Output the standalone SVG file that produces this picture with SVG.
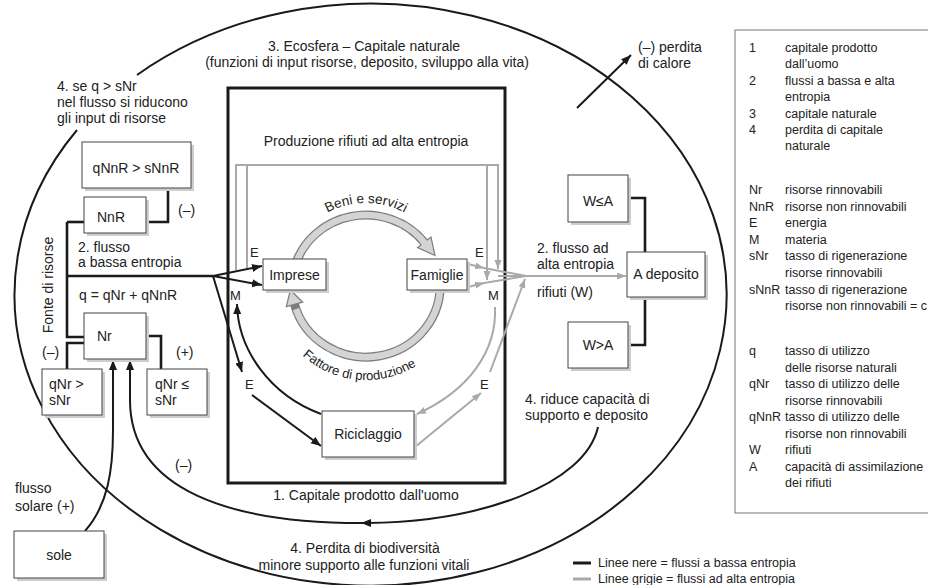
<svg xmlns="http://www.w3.org/2000/svg" width="928" height="585" viewBox="0 0 928 585">
<style>
text{font-family:"Liberation Sans",Arial,sans-serif;fill:#222}
.t{font-size:14px}
.s{font-size:13px}
.lg{font-size:12.5px}
.m{text-anchor:middle}
.box{fill:#fff;stroke:#444;stroke-width:1}
.sh{fill:#cdcdcd}
.k{fill:none;stroke:#1a1a1a;stroke-width:2}
.kk{fill:none;stroke:#1a1a1a;stroke-width:2.6}
.g{fill:none;stroke:#a9a9a9;stroke-width:2}
</style>
<defs>
<marker id="ab" markerUnits="userSpaceOnUse" markerWidth="11" markerHeight="9" refX="10" refY="4" orient="auto"><path d="M0,0 L10,4 L0,8 z" fill="#1a1a1a"/></marker>
<marker id="ag" markerUnits="userSpaceOnUse" markerWidth="10" markerHeight="8" refX="9" refY="3.5" orient="auto"><path d="M0,0 L9,3.5 L0,7 z" fill="#a9a9a9"/></marker>
<path id="pb" d="M283,286 A83 83 0 0 1 449,286"/>
<path id="pf" d="M273.4,302.3 A94 94 0 0 0 458.6,302.3"/>
</defs>

<!-- Ecosphere ellipse -->
<path class="k" d="M137,75 A356 291 0 1 1 77,130" stroke-width="1.8"/>

<!-- Inner rectangle -->
<rect x="228" y="88" width="277" height="395" fill="none" stroke="#1a1a1a" stroke-width="3"/>

<!-- ring -->
<g id="ring">
<path d="M294.5,267.6 A74 71 0 0 1 424.3,242.3" fill="none" stroke="#7d7d7d" stroke-width="9"/>
<polygon points="431,237.1 435,255.5 417.6,247.5" fill="#d4d4d4" stroke="#7d7d7d" stroke-width="1.2"/>
<path d="M294.5,267.6 A74 71 0 0 1 427.3,246.3" fill="none" stroke="#d4d4d4" stroke-width="6.5"/>
<path d="M439.7,279.8 A74 71 0 0 1 294.5,304.4" fill="none" stroke="#7d7d7d" stroke-width="9"/>
<polygon points="286.3,306.6 290.4,290 302.7,302.2" fill="#d4d4d4" stroke="#7d7d7d" stroke-width="1.2"/>
<path d="M439.7,279.8 A74 71 0 0 1 296,309.1" fill="none" stroke="#d4d4d4" stroke-width="6.5"/>
<text style="font-size:13.5px"><textPath href="#pb" startOffset="50%" text-anchor="middle">Beni e servizi</textPath></text>
<text style="font-size:13px"><textPath href="#pf" startOffset="123" text-anchor="middle">Fattore di produzione</textPath></text>
</g>

<!-- connectors -->
<g id="connectors">
<path class="kk" d="M67,222 H84"/>
<path class="kk" d="M146,222 H168 V188"/>
<path class="kk" d="M67,222 V337 H84"/>
<path class="kk" d="M84,343 H67 V369"/>
<path class="kk" d="M146,336 H161 V369"/>
<path class="kk" d="M67,276 H213"/>
<path class="k" d="M213,276 L262,266" marker-end="url(#ab)"/>
<path class="k" d="M213,276 L262,285" marker-end="url(#ab)"/>
<path class="k" d="M213,276 L242,372" marker-end="url(#ab)"/>
<path class="k" d="M252,395 L321,446" marker-end="url(#ab)"/>
<path class="k" d="M321,414 C270,395 238,350 237,304" marker-end="url(#ab)"/>
<path class="k" d="M85,531 C108,505 113,470 113,430 L113,360" marker-end="url(#ab)"/>
<path class="k" d="M598,427 C585,485 480,522 367,523 C230,524 130,490 130,400 L130,360" marker-end="url(#ab)"/>
<polygon points="361,523 371,519 371,527" fill="#1a1a1a"/>
<path class="k" d="M577,108 L631,55" marker-end="url(#ab)"/>
<path class="kk" d="M628,198 H645 V252"/>
<path class="kk" d="M645,297 V345 H628"/>
<path class="g" d="M236,270 V165 H498 V269" marker-end="url(#ag)"/>
<path class="g" d="M247,268 V165"/>
<path class="g" d="M487,165 V280" marker-end="url(#ag)"/>
<path class="g" d="M468,264 L484,268" marker-end="url(#ag)"/>
<path class="g" d="M484,268 L526,276"/>
<path class="g" d="M468,287 L484,283" marker-end="url(#ag)"/>
<path class="g" d="M484,283 L526,276"/>
<path class="g" d="M498,276 H626" marker-end="url(#ag)"/>
<path class="g" d="M495,307 C497,350 470,390 417,414" marker-end="url(#ag)"/>
<path class="g" d="M415,447 L481,393" marker-end="url(#ag)"/>
<path class="g" d="M490,372 L525,279" marker-end="url(#ag)"/>
</g>

<!-- nodes -->
<g id="qNnR-box"><rect class="sh" x="85" y="145" width="109" height="46"/><rect class="box" x="82" y="142" width="109" height="46"/><text class="t m" x="136" y="173">qNnR &gt; sNnR</text></g>
<g id="NnR-box"><rect class="sh" x="87" y="200" width="62" height="36"/><rect class="box" x="84" y="197" width="62" height="36"/><text class="t" x="97" y="222">NnR</text></g>
<g id="Nr-box"><rect class="sh" x="87" y="316" width="62" height="46"/><rect class="box" x="84" y="313" width="62" height="46"/><text class="t" x="97" y="341">Nr</text></g>
<g id="qNr-gt-box"><rect class="sh" x="45" y="372" width="60" height="46"/><rect class="box" x="42" y="369" width="60" height="46"/><text class="t" x="49" y="389">qNr &gt;</text><text class="t" x="49" y="405">sNr</text></g>
<g id="qNr-le-box"><rect class="sh" x="150" y="372" width="60" height="46"/><rect class="box" x="147" y="369" width="60" height="46"/><text class="t" x="155" y="389">qNr  ≤</text><text class="t" x="155" y="405">sNr</text></g>
<g id="imprese"><rect class="sh" x="266" y="262" width="63" height="31"/><rect class="box" x="263" y="259" width="63" height="31"/><text class="t m" x="294.5" y="280">Imprese</text></g>
<g id="famiglie"><rect class="sh" x="410" y="262" width="60" height="31"/><rect class="box" x="407" y="259" width="60" height="31"/><text class="t m" x="437" y="280">Famiglie</text></g>
<g id="riciclaggio"><rect class="sh" x="325" y="414" width="92" height="46"/><rect class="box" x="322" y="411" width="92" height="46"/><text class="t m" x="368" y="439">Riciclaggio</text></g>
<g id="WleA"><rect class="sh" x="571" y="178" width="60" height="47"/><rect class="box" x="568" y="175" width="60" height="47"/><text class="t m" x="598" y="206">W≤A</text></g>
<g id="Adeposito"><rect class="sh" x="630" y="255" width="78" height="45"/><rect class="box" x="627" y="252" width="78" height="45"/><text class="t m" x="666" y="279">A deposito</text></g>
<g id="WgtA"><rect class="sh" x="571" y="325" width="60" height="46"/><rect class="box" x="568" y="322" width="60" height="46"/><text class="t m" x="598" y="350">W&gt;A</text></g>
<g id="sole"><rect class="sh" x="17" y="534" width="90" height="47"/><rect class="box" x="14" y="531" width="90" height="47"/><text class="t m" x="59" y="560">sole</text></g>

<!-- labels -->
<g id="labels">
<text class="t m" x="364" y="51">3. Ecosfera – Capitale naturale</text>
<text class="t m" x="367" y="67">(funzioni di input risorse, deposito, sviluppo alla vita)</text>
<text class="t m" x="366" y="146">Produzione rifiuti ad alta entropia</text>
<text class="t m" x="366" y="500">1. Capitale prodotto dall'uomo</text>
<text class="t m" x="365" y="553">4. Perdita di biodiversità</text>
<text class="t m" x="364" y="570">minore supporto alle funzioni vitali</text>
<text class="t" x="525" y="404">4. riduce capacità di</text>
<text class="t" x="525" y="420">supporto e deposito</text>
<text class="t" x="537" y="253">2. flusso ad</text>
<text class="t" x="537" y="269">alta entropia</text>
<text class="t" x="537" y="297">rifiuti (W)</text>
<text class="t" x="638" y="52">(–) perdita</text>
<text class="t" x="638" y="68">di calore</text>
<text class="t" x="57" y="91">4. se q &gt; sNr</text>
<text class="t" x="57" y="107">nel flusso si riducono</text>
<text class="t" x="57" y="123">gli input di risorse</text>
<text class="t" x="78" y="252">2. flusso</text>
<text class="t" x="78" y="267">a bassa entropia</text>
<text class="t" x="79" y="300">q = qNr + qNnR</text>
<text class="t" x="178" y="215">(–)</text>
<text class="t" x="42" y="357">(–)</text>
<text class="t" x="176" y="357">(+)</text>
<text class="t" x="175" y="470">(–)</text>
<text class="t" x="15" y="493">flusso</text>
<text class="t" x="15" y="511">solare (+)</text>
<text class="t m" transform="translate(53,285) rotate(-90)">Fonte di risorse</text>
<text class="s" x="250" y="257">E</text>
<text class="s" x="230" y="300">M</text>
<text class="s" x="245" y="389">E</text>
<text class="s" x="475" y="257">E</text>
<text class="s" x="488" y="300">M</text>
<text class="s" x="480" y="389">E</text>
</g>

<!-- line legend -->
<g id="line-legend">
<path d="M573,563 H591" stroke="#1a1a1a" stroke-width="3"/>
<text class="lg" x="598" y="567">Linee nere = flussi a bassa entropia</text>
<path d="M573,579 H591" stroke="#a9a9a9" stroke-width="3"/>
<text class="lg" x="598" y="583">Linee grigie = flussi ad alta entropia</text>
</g>

<!-- legend box -->
<g id="legend">
<rect x="735" y="30" width="200" height="483" fill="none" stroke="#777" stroke-width="1"/>
<text class="lg" x="749" y="52">1</text><text class="lg" x="785" y="52">capitale prodotto</text>
<text class="lg" x="785" y="68.4">dall’uomo</text>
<text class="lg" x="749" y="84.8">2</text><text class="lg" x="785" y="84.8">flussi a bassa e alta</text>
<text class="lg" x="785" y="101.2">entropia</text>
<text class="lg" x="749" y="117.6">3</text><text class="lg" x="785" y="117.6">capitale naturale</text>
<text class="lg" x="749" y="134">4</text><text class="lg" x="785" y="134">perdita di capitale</text>
<text class="lg" x="785" y="150.4">naturale</text>

<text class="lg" x="749" y="194">Nr</text><text class="lg" x="785" y="194">risorse rinnovabili</text>
<text class="lg" x="749" y="210.6">NnR</text><text class="lg" x="785" y="210.6">risorse non rinnovabili</text>
<text class="lg" x="749" y="227.2">E</text><text class="lg" x="785" y="227.2">energia</text>
<text class="lg" x="749" y="243.8">M</text><text class="lg" x="785" y="243.8">materia</text>
<text class="lg" x="749" y="260.4">sNr</text><text class="lg" x="785" y="260.4">tasso di rigenerazione</text>
<text class="lg" x="785" y="277">risorse rinnovabili</text>
<text class="lg" x="749" y="293.6">sNnR</text><text class="lg" x="785" y="293.6">tasso di rigenerazione</text>
<text class="lg" x="785" y="310.2">risorse non rinnovabili = c</text>

<text class="lg" x="749" y="355">q</text><text class="lg" x="785" y="355">tasso di utilizzo</text>
<text class="lg" x="785" y="371.5">delle risorse naturali</text>
<text class="lg" x="749" y="388">qNr</text><text class="lg" x="785" y="388">tasso di utilizzo delle</text>
<text class="lg" x="785" y="404.5">risorse rinnovabili</text>
<text class="lg" x="749" y="421">qNnR</text><text class="lg" x="785" y="421">tasso di utilizzo delle</text>
<text class="lg" x="785" y="437.5">risorse non rinnovabili</text>
<text class="lg" x="749" y="454">W</text><text class="lg" x="785" y="454">rifiuti</text>
<text class="lg" x="749" y="470.5">A</text><text class="lg" x="785" y="470.5">capacità di assimilazione</text>
<text class="lg" x="785" y="487">dei rifiuti</text>
</g>
</svg>
